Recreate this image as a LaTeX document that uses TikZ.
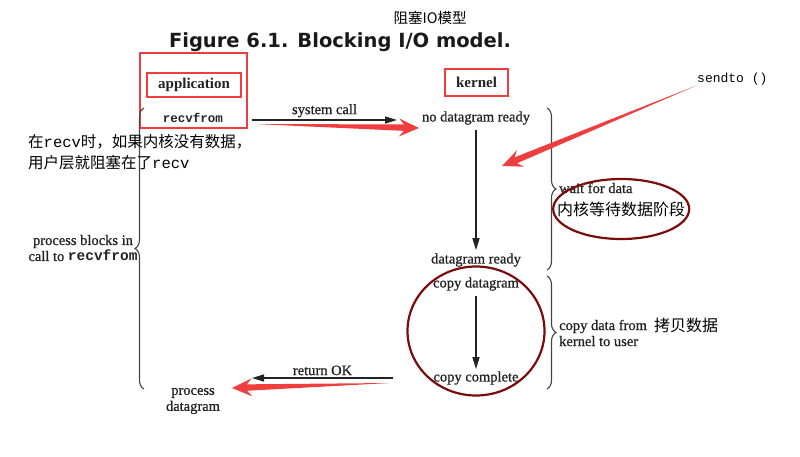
\documentclass[tikz,border=0pt]{standalone}
\usepackage{fontspec}
\setmainfont{Liberation Serif}
\setmonofont{Liberation Mono}
\newfontfamily\cjk{Noto Sans CJK SC}
\newfontfamily\titlefam{DejaVu Sans}
\newfontfamily\scanfam{Liberation Serif}[FakeBold=0.8]
\usetikzlibrary{arrows.meta,calc,decorations.pathreplacing}
\definecolor{markred}{RGB}{240,62,62}
\definecolor{ringred}{RGB}{122,12,12}
\definecolor{ink}{RGB}{35,35,35}
\newcommand{\fsz}[2][16]{\fontsize{#2}{#1}\selectfont}
\newcommand{\sock}[1]{{\ttfamily\bfseries #1}}
% red hand-drawn pointer: tapered wedge with a barbed head
\newcommand{\redpointer}[2]{%
  \fill[markred] (#1)
    -- ($(#2)!15pt!(#1)!3.2pt!90:(#2)$)
    -- ($(#2)!20pt!(#1)!9pt!90:(#2)$)
    -- (#2)
    -- ($(#2)!20pt!(#1)!9pt!-90:(#2)$)
    -- ($(#2)!15pt!(#1)!3.2pt!-90:(#2)$)
    -- cycle;}

\begin{document}
\begin{tikzpicture}[
  x=1pt, y=-1pt,
  lbl/.style={font=\scanfam\fsz{14.5}, text=ink, inner sep=1pt, align=center},
  note/.style={font=\cjk\fsz[21]{15.5}, inner sep=0pt, align=left},
  markbox/.style={draw=markred, line width=2.4pt},
  ring/.style={draw=ringred, line width=2.2pt},
  flow/.style={-{Triangle[length=12pt,width=7pt]}, line width=1.5pt, ink},
  bracket/.style={decorate, decoration={brace, amplitude=9pt}, line width=1.1pt, ink!85},
]
\useasboundingbox (0,0) rectangle (800,456);

% ---- headings ------------------------------------------------------------
\node[note, font=\cjk\fsz{14.5}] (cntitle) at (430,18) {阻塞IO模型};
\node[font=\titlefam\bfseries\fsz{19.5}, text=black!90] (title) at (340,42)
  {Figure 6.1. Blocking I/O model.};

% ---- columns -------------------------------------------------------------
\node[markbox, minimum width=107pt, minimum height=75pt] (appframe) at (193.5,90.5) {};
\node[lbl, markbox, font=\bfseries\fsz{15}, minimum width=94pt, minimum height=24pt]
  (app) at (194,85) {application};
\node[lbl, markbox, font=\bfseries\fsz{15}, minimum width=63pt, minimum height=27pt]
  (kernel) at (476.5,82.5) {kernel};

\node[lbl, font=\fsz{12.5}] (recv) at (193,118) {\sock{recvfrom}};
\node[lbl] (nodata)   at (476,118) {no datagram ready};
\node[lbl] (ready)    at (476,260) {datagram ready};
\node[lbl] (copydg)   at (476,284) {copy datagram};
\node[lbl] (copydone) at (476,378) {copy complete};
\node[lbl] (procdg)   at (193,401) {process\\datagram};
\node[lbl] (blocks)   at (83,248) {process blocks in\\call to \sock{recvfrom}};

% ---- calls between them --------------------------------------------------
\coordinate (callA) at (252,120);
\coordinate (callB) at (397,120);
\draw[flow] (callA) -- node[lbl, above=1pt] {system call} (callB);
\draw[flow, shorten <=4pt, shorten >=2pt] (nodata) -- (ready);
\draw[flow, shorten <=4pt, shorten >=1pt] (copydg) -- (copydone);
\coordinate (retA) at (393,378);
\coordinate (retB) at (252,378);
\draw[flow] (retA) -- node[lbl, above=1pt] {return OK} (retB);

% ---- braces --------------------------------------------------------------
\draw[bracket] (144,389) -- (144,108);
\draw[bracket] (547,108) -- (547,270);
\draw[bracket] (547,276) -- (547,389);
\node[lbl, anchor=west] (waitlbl) at (558,188) {wait for data};
\node[lbl, anchor=west, align=left] (copylbl) at (558,333)
  {copy data from\\kernel to user};

% ---- annotations ---------------------------------------------------------
\node[note, anchor=north west] (cnnote) at (28,134)
  {在{\ttfamily\fsz{15.5}recv}时，如果内核没有数据，\\
   用户层就阻塞在了{\ttfamily\fsz{15.5}recv}};
\node[note, font=\cjk\fsz{16}, anchor=west] (cnwait) at (557,209) {内核等待数据阶段};
\node[note, font=\cjk\fsz{16}, anchor=west] (cncopy) at (654,325) {拷贝数据};
\node[font=\ttfamily\fsz{13}, anchor=west, inner sep=0pt] (sendto) at (697,79) {sendto ()};

\draw[ring] (cnwait.center) ellipse [x radius=68, y radius=30];
\draw[ring] ($(copydg)!0.5!(copydone)$) ellipse [x radius=68.5, y radius=64.5];

% ---- red pointers --------------------------------------------------------
\coordinate (sysTip) at (419,128);
\coordinate (sysTail) at (255,124);
\redpointer{sysTail}{sysTip}
\coordinate (retTip) at (232,388);
\coordinate (retTail) at (390,383);
\redpointer{retTail}{retTip}
\coordinate (sendTip) at (502,166);
\redpointer{sendto.south west}{sendTip}

\end{tikzpicture}
\end{document}
